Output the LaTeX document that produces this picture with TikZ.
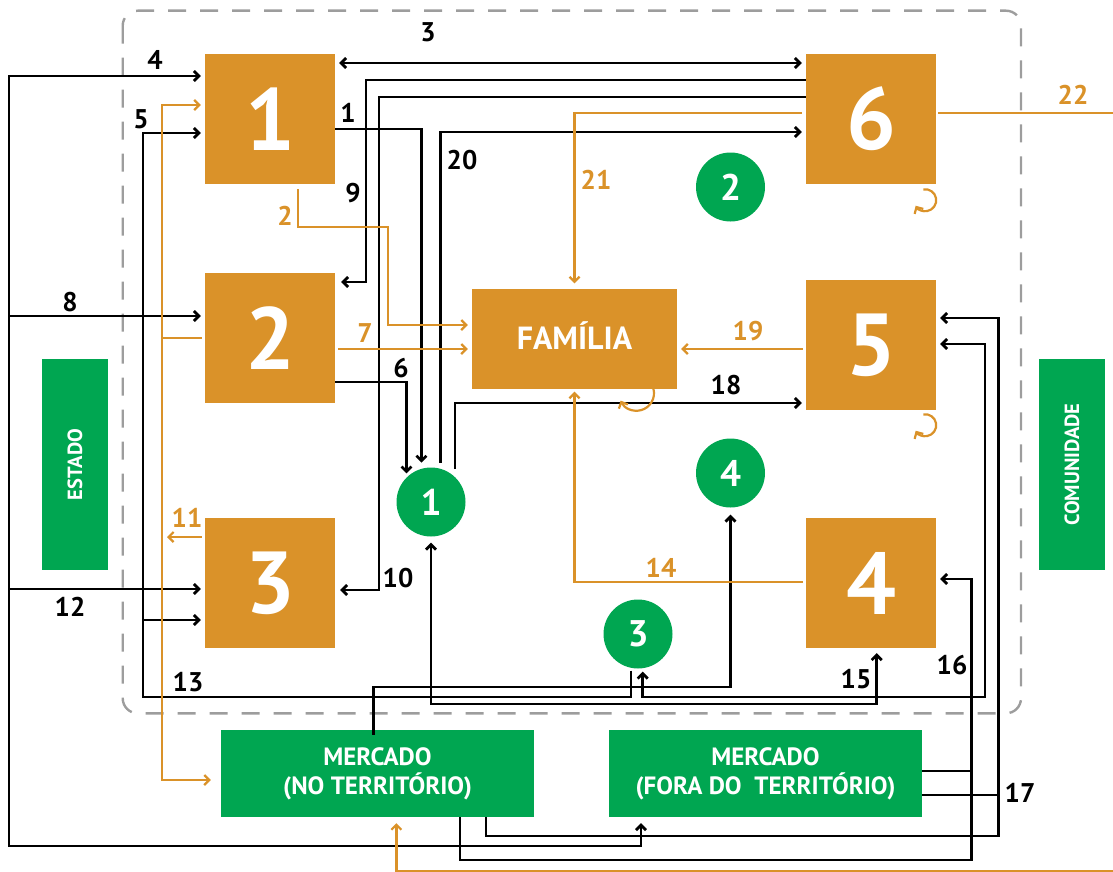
\documentclass[tikz,border=0pt]{standalone}
\usepackage{fontspec}
\setmainfont{PT Sans}
\usetikzlibrary{arrows.meta,calc}

\definecolor{laranja}{HTML}{DA9229}
\definecolor{verde}{HTML}{00A651}
\definecolor{cinza}{HTML}{9D9D9D}

\tikzset{
  caixa/.style={fill=laranja, minimum width=130, minimum height=130, inner sep=0,
    text=white, font=\bfseries\fontsize{88}{88}\selectfont},
  bola/.style={circle, fill=verde, minimum size=69, inner sep=0,
    text=white, font=\bfseries\fontsize{37}{37}\selectfont},
  mercado/.style={fill=verde, minimum width=313, minimum height=87, inner sep=0,
    align=center, text=white, font=\bfseries\fontsize{25}{29}\selectfont},
  ator/.style={fill=verde, minimum width=211, minimum height=66, inner sep=0,
    rotate=90, text=white, font=\bfseries\fontsize{20.5}{20.5}\selectfont},
  num/.style={font=\bfseries\fontsize{27}{27}\selectfont, inner sep=0},
  numl/.style={num, text=laranja},
  linha/.style={line width=2.7pt, black},
  fluxo/.style={line width=2.2pt, laranja}
}

\begin{document}
\begin{tikzpicture}[x=1pt, y=-1pt, >={Straight Barb[length=5pt,width=10pt]}]
  \useasboundingbox (0,0) rectangle (1113,872);

  % Moldura tracejada
  \draw[cinza, line width=2.4pt, dash pattern=on 18pt off 14pt, rounded corners=15pt]
    (122.7,10.7) rectangle (1021,713.3);

  % Caixas
  \node[caixa] (b1) at (270,119) {1};
  \node[caixa] (b2) at (270,338) {2};
  \node[caixa] (b3) at (270,583) {3};
  \node[caixa] (b6) at (871,119) {6};
  \node[caixa] (b5) at (871,345) {5};
  \node[caixa] (b4) at (871,583) {4};
  \node[fill=laranja, minimum width=205, minimum height=100, inner sep=0, text=white,
    text height=22.4, text depth=0, font=\bfseries\fontsize{32}{32}\selectfont]
    (fam) at (574.5,338.5) {FAMÍLIA};

  % Bolas
  \node[bola] (c1) at (431,502) {1};
  \node[bola] (c2) at (730.5,187) {2};
  \node[bola] (c3) at (638,634) {3};
  \node[bola] (c4) at (730.5,473) {4};

  % Mercados e atores
  \node[mercado] (mnt) at (377.5,773.5) {MERCADO\\(NO TERRITÓRIO)};
  \node[mercado] (mft) at (765.5,773.5) {MERCADO\\(FORA DO\ \ TERRITÓRIO)};
  \node[ator] (est) at (75,464.5) {ESTADO};
  \node[ator] (com) at (1072,464.5) {COMUNIDADE};

  \coordinate (fim22) at (1113,113);
  \coordinate (fim0) at (1113,871.5);

  % Fluxos pretos
  \draw[linha,<->,shorten <=4pt,shorten >=4pt] (b1.east |- 0,63) -- (b6.west |- 0,63);
  \draw[linha,<->,shorten <=4pt,shorten >=6pt] (b1.west |- 0,76) -- (9,76) -- (9,846) -| (mft.south -| 641,0);
  \draw[linha,->,shorten >=4pt] (9,316) -- (b2.west |- 0,316);
  \draw[linha,->,shorten >=4pt] (9,589) -- (b3.west |- 0,589);
  \draw[linha,->,shorten <=2pt,shorten >=4pt] (c3.south -| 631,0) -- (631,697) -| (143,133) -- (b1.west |- 0,133);
  \draw[linha,->,shorten >=4pt] (143,620) -- (b3.west |- 0,620);
  \draw[linha,->,shorten >=6pt] (b1.east |- 0,129) -| (c1.106);
  \draw[linha,->,shorten >=4pt] (b2.east |- 0,382) -| (c1.north west);
  \draw[linha,->,shorten <=6pt,shorten >=4pt] (c1.74) |- (b6.west |- 0,132);
  \draw[linha,->,shorten <=8pt,shorten >=4pt] (c1.46) |- (b5.west |- 0,403);
  \draw[linha,->,shorten >=6pt] (b6.west |- 0,80) -- (366,80) |- (b2.east |- 0,282);
  \draw[linha,->,shorten >=5pt] (b6.west |- 0,97) -- (379,97) |- (b3.east |- 0,590);
  \draw[linha,->,shorten >=4pt] (mnt.south -| 460,0) -- (460,860) -| (971.5,579) -- (b4.east |- 0,579);
  \draw[linha] (mft.east |- 0,771) -- (971.5,771);
  \draw[linha,->,shorten >=4pt] (mnt.south -| 486,0) -- (486,836) -| (998.5,318) -- (b5.east |- 0,318);
  \draw[linha] (mft.east |- 0,795) -- (998.5,795);
  \draw[linha,<->,shorten <=4pt,shorten >=3pt] (b5.east |- 0,344) -- (985,344) |- (642.7,697) -- (c3.south -| 642.7,0);
  \draw[linha,<->,shorten <=6pt,shorten >=5pt] (c1.south) -- (431,704) -| (b4.south -| 876.7,0);
  \draw[linha,->,shorten <=-5pt,shorten >=7pt] (mnt.north -| 373.3,0) -- (373.3,687) -| (c4.south);

  % Fluxos laranja
  \draw[fluxo,->,shorten <=5pt,shorten >=4pt] (b1.south -| 298,0) -- (298,227) -| (388,325) -- (fam.west |- 0,325);
  \draw[fluxo,->,shorten <=3pt,shorten >=4pt] (b2.east |- 0,349) -- (fam.west |- 0,349);
  \draw[fluxo,->,shorten <=3pt,shorten >=4pt] (b5.west |- 0,349) -- (fam.east |- 0,349);
  \draw[fluxo,->,shorten <=4pt,shorten >=5pt] (b6.west |- 0,113) -| (fam.north);
  \draw[fluxo,->,shorten <=3pt,shorten >=3pt] (b4.west |- 0,582) -| (fam.south);
  \draw[fluxo,shorten <=2pt] (b6.east |- 0,113) -- (fim22);
  \draw[fluxo,->,shorten <=3pt,shorten >=4pt] (b2.west |- 0,338) -- (162,338) |- (b1.west |- 0,105);
  \draw[fluxo,->,shorten >=10pt] (162,338) |- (mnt.west |- 0,780);
  \draw[fluxo,->,shorten <=3pt] (b3.west |- 0,537) -- (167,537);
  \draw[fluxo,->,shorten >=6pt] (fim0) -- (396.4,871.5) -- (mnt.south -| 396.4,0);

  % Lacos
  \draw[fluxo,->] ($(b6.south east)+(-12.9,5.2)$) arc[start angle=-100, end angle=150, radius=11];
  \draw[fluxo,->] ($(b5.south east)+(-12.9,4.2)$) arc[start angle=-100, end angle=150, radius=11];
  \draw[fluxo,->] ($(fam.south)+(78.9,0)$) arc[start angle=-15, end angle=155, radius=17.5];

  % Rotulos
  \foreach \t/\x/\y in {3/428/32, 4/155/60, 5/141/119, 1/348/113, 20/462/160, 9/353/193,
      8/70/302, 6/401/368, 18/726/385, 10/398/578, 12/70/607, 13/188/682,
      15/856/679, 16/952/665, 17/1020/793}
    \node[num] (n\t) at (\x,\y) {\t};
  \foreach \t/\x/\y in {2/285/216, 21/596/180, 22/1073/95, 7/365/333, 19/748/331,
      11/187/518, 14/661/568}
    \node[numl] (n\t) at (\x,\y) {\t};
\end{tikzpicture}
\end{document}
